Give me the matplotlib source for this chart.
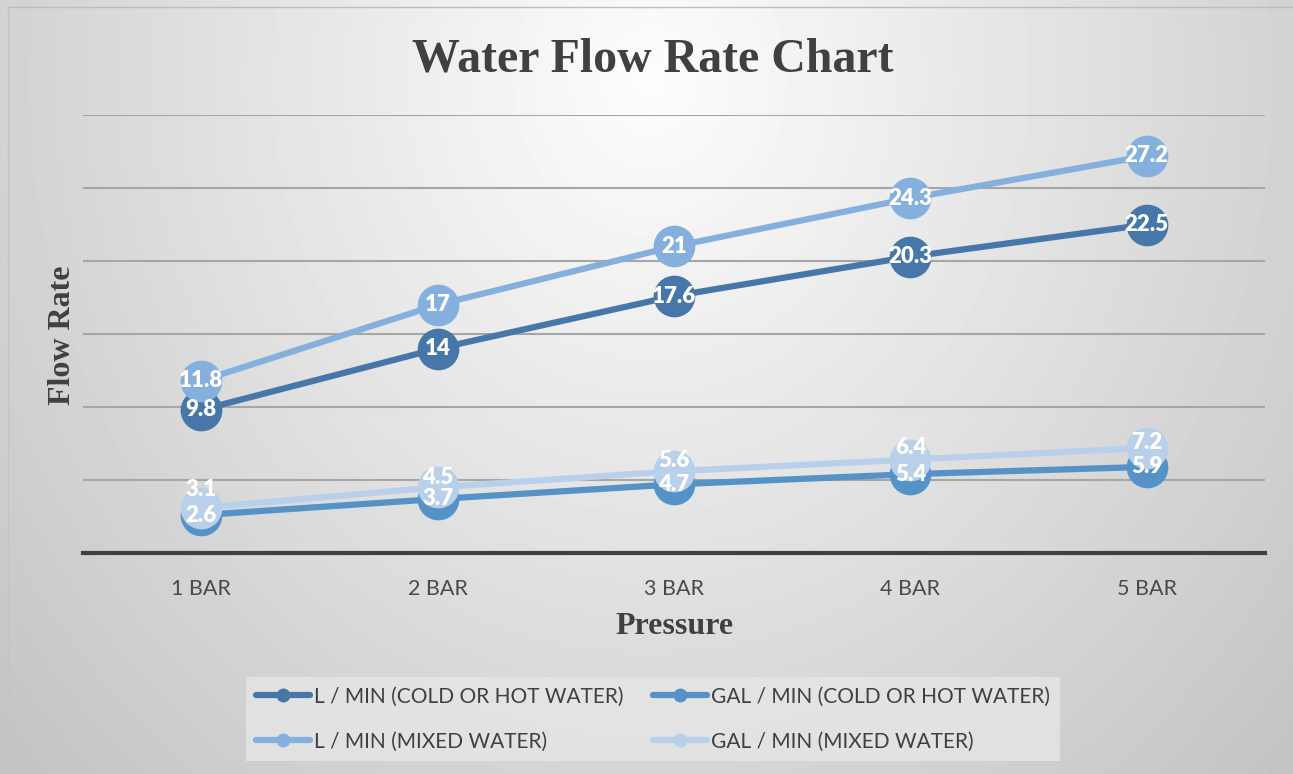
import numpy as np
import matplotlib
matplotlib.use("Agg")
import matplotlib.pyplot as plt
from matplotlib.lines import Line2D

categories = ["1 BAR", "2 BAR", "3 BAR", "4 BAR", "5 BAR"]
series_names = ["L / MIN (COLD OR HOT WATER)", "GAL / MIN (COLD OR HOT WATER)",
                "L / MIN (MIXED WATER)", "GAL / MIN (MIXED WATER)"]
l_cold_hot = [9.8, 14, 17.6, 20.3, 22.5]
gal_cold_hot = [2.6, 3.7, 4.7, 5.4, 5.9]
l_mixed = [11.8, 17, 21, 24.3, 27.2]
gal_mixed = [3.1, 4.5, 5.6, 6.4, 7.2]

colors = ["#4677a8", "#5592c8", "#85b0de", "#b9d0eb"]
# vertical label shifts in points (Excel nudges the last series' labels upward)
label_shifts = [
    [0, 0, 0, 0, 0],
    [0, 0, 0, 0, 0],
    [0, 0, 0, 0, 0],
    [13, 7, 8, 9, 4],
]

W, H = 1293, 774
fig = plt.figure(figsize=(W / 100, H / 100), dpi=100)

# background gradient
bg = fig.add_axes([0, 0, 1, 1], zorder=-10)
yy, xx = np.mgrid[0:H, 0:W]
dx = (xx - 650) / 700.0
dy = (yy - 80) / 800.0
r = np.sqrt(dx ** 2 + dy ** 2)
v = np.clip(253 - 46 * r, 190, 255) / 255.0
bg.imshow(v, cmap="gray", vmin=0, vmax=1, aspect="auto", extent=[0, W, H, 0])
bg.plot([8, W], [7, 7], color="#bdbdbd", lw=1)
bg.plot([8, 8], [7, H], color="#c4c4c4", lw=1)
bg.set_xlim(0, W)
bg.set_ylim(H, 0)
bg.axis("off")

left, right, top, bottom = 83, 1265, 115, 553
ax = fig.add_axes([left / W, 1 - bottom / H, (right - left) / W, (bottom - top) / H])
ax.patch.set_alpha(0)
x = np.arange(len(categories))
ax.set_xlim(-0.5, len(categories) - 0.5)
ax.set_ylim(0, 30)
ax.set_yticks([5, 10, 15, 20, 25, 30])
ax.yaxis.grid(True, color="#a6a6a6", lw=1.5)
ax.set_axisbelow(True)
ax.tick_params(axis="y", length=0, labelleft=False)
ax.set_xticks(x)
ax.set_xticklabels(categories, fontsize=15.5, color="#4a4a4a", family="Lato")
ax.tick_params(axis="x", length=0, pad=19)
for s in ["top", "right", "left"]:
    ax.spines[s].set_visible(False)
ax.spines["bottom"].set_color("#404040")
ax.spines["bottom"].set_linewidth(3)

all_series = [l_cold_hot, gal_cold_hot, l_mixed, gal_mixed]
for i, (vals, c, name) in enumerate(zip(all_series, colors, series_names)):
    ax.plot(x, vals, color=c, lw=4.5, marker="o", markersize=29,
            markerfacecolor=c, markeredgecolor=c, label=name, zorder=3 + i,
            solid_capstyle="round")
for i, vals in enumerate(all_series):
    for j, (xi, vi) in enumerate(zip(x, vals)):
        ax.annotate(f"{vi:g}", (xi, vi), xytext=(0, label_shifts[i][j]),
                    textcoords="offset points", ha="center", va="center",
                    color="white", fontsize=16, fontweight="heavy",
                    family="Lato", zorder=20)

fig.text(653 / W, 1 - 59 / H, "Water Flow Rate Chart", ha="center", va="center",
         fontsize=34.5, fontweight="bold", family="Liberation Serif", color="#404040")
fig.text(62 / W, 1 - 335 / H, "Flow Rate", ha="center", va="center", rotation=90,
         fontsize=23, fontweight="bold", family="Liberation Serif", color="#404040")
fig.text(674 / W, 1 - 627 / H, "Pressure", ha="center", va="center",
         fontsize=23, fontweight="bold", family="Liberation Serif", color="#404040")

hs = [Line2D([0], [0], color=c, lw=4.5, marker="o", markersize=9,
             solid_capstyle="round") for c in colors]
order = [0, 2, 1, 3]  # column-first filling -> rows match reference
leg = fig.legend([hs[k] for k in order], [series_names[k] for k in order],
                 loc="center", bbox_to_anchor=(653 / W, 1 - 719 / H),
                 ncol=2, frameon=True, prop={"family": "Lato", "size": 15},
                 handlelength=2.6, handletextpad=0.2, columnspacing=1.4,
                 labelspacing=1.2, borderpad=0.45)
leg.get_frame().set_facecolor("#e6e6e6")
leg.get_frame().set_alpha(0.8)
leg.get_frame().set_edgecolor("none")
leg.get_frame().set_boxstyle("square", pad=0)
for t in leg.get_texts():
    t.set_color("#404040")

fig.savefig("out.png", dpi=100)
